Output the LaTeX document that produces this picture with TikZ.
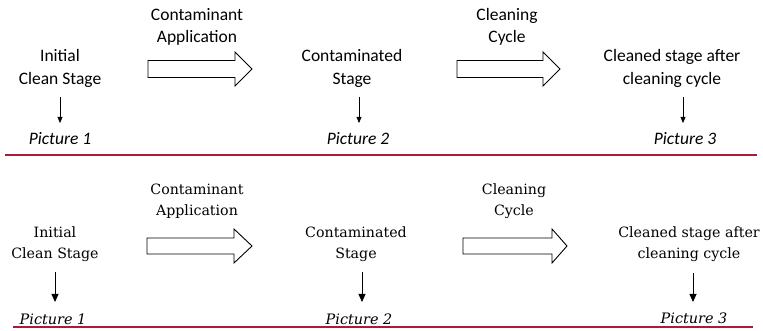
\documentclass[tikz,border=0pt]{standalone}
\usepackage{fontspec}
\setmainfont{Carlito}
\newfontfamily\serifB{DejaVu Serif}
\usetikzlibrary{arrows.meta}
\definecolor{rulered}{RGB}{175,25,55}
\tikzset{
  toptxt/.style={align=center, inner sep=0pt, font=\fontsize{17.5}{22.5}\selectfont},
  toppic/.style={inner sep=0pt, font=\fontsize{17.5}{21}\selectfont\itshape},
  bottxt/.style={align=center, inner sep=0pt, font=\serifB\fontsize{14.2}{21}\selectfont},
  botpic/.style={inner sep=0pt, font=\serifB\fontsize{14.4}{21}\selectfont\itshape},
  downA/.style={draw=black, line width=0.5pt, -{Triangle[width=5pt,length=6pt]}},
  downB/.style={draw=black, line width=0.8pt, -{Triangle[width=7pt,length=8pt]}},
  blockA/.style={draw=black, line width=0.9pt, fill=white, line join=miter},
  rulel/.style={draw=rulered, line width=2pt}
}
\begin{document}
\begin{tikzpicture}[x=1pt,y=1pt]
\useasboundingbox (0,0) rectangle (763,331);
% ---------- top panel (y = 331 - px) ----------
\node[toptxt] (t1) at (60,262.5) {Initial\\Clean Stage};
\node[toptxt] (t2) at (352,262.5) {Contaminated\\Stage};
\node[toptxt] (t3) at (672,262.5) {Cleaned stage after\\cleaning cycle};
\node[toptxt] (ta) at (197,304) {Contaminant\\Application};
\node[toptxt] (tb) at (507,304) {Cleaning\\Cycle};
\node[toppic] (p1) at (60,192) {Picture 1};
\node[toppic] (p2) at (358,192) {Picture 2};
\node[toppic] (p3) at (685,192) {Picture 3};
\coordinate (d1a) at (60,234); \coordinate (d1b) at (60,208);
\coordinate (d2a) at (359,234); \coordinate (d2b) at (359,208);
\coordinate (d3a) at (683,234); \coordinate (d3b) at (683,208);
\draw[downA] (d1a) -- (d1b);
\draw[downA] (d2a) -- (d2b);
\draw[downA] (d3a) -- (d3b);
\draw[blockA] (148,270.5) -- (235,270.5) -- (235,279) -- (252,262) -- (235,245) -- (235,253.5) -- (148,253.5) -- cycle;
\draw[blockA] (457,270.5) -- (543,270.5) -- (543,279) -- (560,262) -- (543,245) -- (543,253.5) -- (457,253.5) -- cycle;
\coordinate (r1a) at (5,176); \coordinate (r1b) at (757,176);
\draw[rulel] (r1a) -- (r1b);
% ---------- bottom panel ----------
\node[bottxt] (b1) at (55,86.5) {Initial\\Clean Stage};
\node[bottxt] (b2) at (356,86.5) {Contaminated\\Stage};
\node[bottxt] (b3) at (689,86.5) {Cleaned stage after\\cleaning cycle};
\node[bottxt] (ba) at (197,129.5) {Contaminant\\Application};
\node[bottxt] (bb) at (514,129.5) {Cleaning\\Cycle};
\node[botpic] (q1) at (53,12) {Picture 1};
\node[botpic] (q2) at (359,12) {Picture 2};
\node[botpic] (q3) at (694,13) {Picture 3};
\coordinate (e1a) at (55,59); \coordinate (e1b) at (55,29);
\coordinate (e2a) at (362,59); \coordinate (e2b) at (362,29);
\coordinate (e3a) at (693,58); \coordinate (e3b) at (693,29);
\draw[downB] (e1a) -- (e1b);
\draw[downB] (e2a) -- (e2b);
\draw[downB] (e3a) -- (e3b);
\draw[blockA] (147,93) -- (234,93) -- (234,102) -- (252,85) -- (234,68) -- (234,77) -- (147,77) -- cycle;
\draw[blockA] (463,93) -- (552,93) -- (552,102) -- (567,85) -- (552,68) -- (552,77) -- (463,77) -- cycle;
\coordinate (r2a) at (13,4); \coordinate (r2b) at (753,4);
\draw[rulel] (r2a) -- (r2b);
\end{tikzpicture}
\end{document}
